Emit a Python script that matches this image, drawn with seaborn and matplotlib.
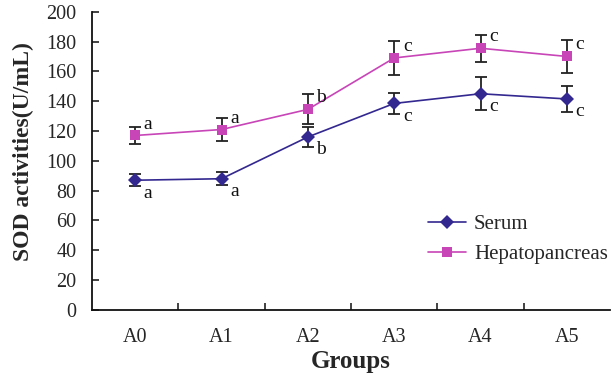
import matplotlib
matplotlib.use("Agg")
import matplotlib.pyplot as plt
import seaborn as sns
import numpy as np
import pandas as pd

groups = ["A0", "A1", "A2", "A3", "A4", "A5"]
serum = [87, 88, 116, 138.5, 145, 141.5]
serum_err = [4, 4.5, 7, 7, 11, 9]
hepato = [117, 121, 134.5, 169, 175.5, 170]
hepato_err = [6, 8, 10, 11.5, 9, 11]
serum_sig = ["a", "a", "b", "c", "c", "c"]
hepato_sig = ["a", "a", "b", "c", "c", "c"]

sns.set_theme(style="white")
plt.rcParams["font.family"] = ["Liberation Serif", "DejaVu Serif"]

serum_color = "#33288f"
hepato_color = "#c845b8"

pos = np.arange(len(groups))
df = pd.DataFrame({
    "pos": np.concatenate([pos, pos]),
    "value": serum + hepato,
    "series": ["Serum"] * len(groups) + ["Hepatopancreas"] * len(groups),
})

fig = plt.figure(figsize=(6.15, 3.78), dpi=100)
ax = fig.add_axes([0.1496, 0.180, 0.8424, 0.789])

# error bars first so the markers sit on top
for vals, errs in [(serum, serum_err), (hepato, hepato_err)]:
    ax.errorbar(pos, vals, yerr=errs, fmt="none", ecolor="#222222",
                elinewidth=1.3, capsize=4, capthick=1.3, zorder=2)

sns.lineplot(data=df, x="pos", y="value", hue="series", style="series",
             markers={"Serum": "D", "Hepatopancreas": "s"}, dashes=False,
             palette={"Serum": serum_color, "Hepatopancreas": hepato_color},
             markersize=7, markeredgewidth=0, linewidth=1.2, ax=ax, zorder=3)

# significance letters
for i in range(len(groups)):
    ax.text(pos[i] + 0.1, serum[i] - 3, serum_sig[i], fontsize=14,
            ha="left", va="top", color="#111111")
    ax.text(pos[i] + 0.1, hepato[i] + 2, hepato_sig[i], fontsize=14,
            ha="left", va="bottom", color="#111111")

ax.set_xlim(-0.5, len(groups) - 0.5)
ax.set_ylim(0, 200)
ax.set_yticks(np.arange(0, 201, 20))
ax.set_xticks(pos)
ax.set_xticklabels(groups)
ax.set_xticks(np.arange(0.5, len(groups) - 0.5, 1), minor=True)
ax.tick_params(axis="x", which="major", length=0, pad=13, labelsize=14.5)
ax.tick_params(axis="x", which="minor", direction="in", length=5,
               width=1.2, color="#222222", bottom=True)
ax.tick_params(axis="y", direction="in", length=5, width=1.2,
               color="#222222", labelsize=14.5, left=True, pad=11)

for side in ["top", "right"]:
    ax.spines[side].set_visible(False)
for side in ["left", "bottom"]:
    ax.spines[side].set_color("#111111")
    ax.spines[side].set_linewidth(1.3)

ax.set_xlabel("Groups", fontsize=18, fontweight="bold", labelpad=2)
ax.set_ylabel("SOD activities(U/mL)", fontsize=17, fontweight="bold")
ax.yaxis.set_label_coords(-0.112, 0.53)

handles, labels = ax.get_legend_handles_labels()
ax.legend(handles, labels, loc="lower right", bbox_to_anchor=(1.032, 0.09),
          frameon=False, fontsize=15, handlelength=1.8, labelspacing=0.5,
          handletextpad=0.4)

fig.savefig("out.png", dpi=100)
